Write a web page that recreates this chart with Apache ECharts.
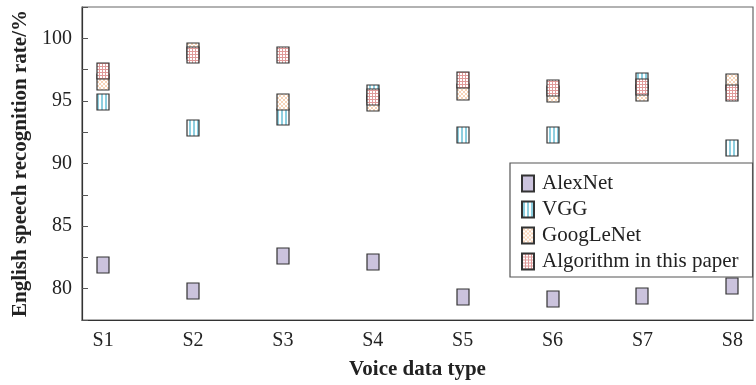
<!DOCTYPE html>
<html>
<head>
<meta charset="utf-8">
<script src="https://cdn.jsdelivr.net/npm/echarts@6/dist/echarts.min.js"></script>
<style>
  html, body { margin: 0; padding: 0; background: #fff; }
  #chart { width: 756px; height: 385px; }
</style>
</head>
<body>
<div id="chart"></div>
<script>
const categories = ['S1', 'S2', 'S3', 'S4', 'S5', 'S6', 'S7', 'S8']
const alexNet = [81.9, 79.8, 82.6, 82.1, 79.3, 79.2, 79.4, 80.2]
const vgg = [94.9, 92.8, 93.7, 95.6, 92.3, 92.3, 96.6, 91.2]
const googLeNet = [96.5, 99.0, 94.9, 94.85, 95.7, 95.55, 95.65, 96.5]
const ours = [97.4, 98.7, 98.7, 95.3, 96.7, 96.0, 96.1, 95.6]
const yTicks = [80, 85, 90, 95, 100]

const font = '"Liberation Serif", "DejaVu Serif", serif'

// small canvas tiles used as fill patterns
function tile (w, h, draw) {
  const c = document.createElement('canvas')
  c.width = w
  c.height = h
  const ctx = c.getContext('2d')
  ctx.fillStyle = '#fff'
  ctx.fillRect(0, 0, w, h)
  draw(ctx)
  return { image: c, repeat: 'repeat' }
}

const stripes = tile(4, 4, ctx => {
  ctx.fillStyle = '#8dcfe0'
  ctx.fillRect(1, 0, 2, 4)
})

const crossHatch = tile(4, 4, ctx => {
  ctx.strokeStyle = '#f5c9a6'
  ctx.lineWidth = 0.8
  ctx.beginPath()
  ctx.moveTo(0, 0); ctx.lineTo(4, 4)
  ctx.moveTo(4, 0); ctx.lineTo(0, 4)
  ctx.stroke()
})

const grid = tile(3, 3, ctx => {
  ctx.fillStyle = '#e09a9a'
  ctx.fillRect(0, 0, 3, 1)
  ctx.fillRect(0, 0, 1, 3)
})

const chart = echarts.init(document.getElementById('chart'))

function pts (vals) {
  return vals.map((v, i) => [i + 1, v])
}

// boxes drawn through the axes: 12 x 16 px rectangle centred on each value
function makeSeries (name, vals, fill) {
  return {
    name: name,
    type: 'custom',
    data: pts(vals),
    encode: { x: 0, y: 1 },
    itemStyle: { color: fill, borderColor: '#333', borderWidth: 1.2 },
    renderItem: (params, api) => {
      const p = api.coord([api.value(0), api.value(1)])
      return {
        type: 'rect',
        shape: { x: Math.round(p[0]) - 6, y: Math.round(p[1]) - 8, width: 12, height: 16 },
        style: { fill: fill, stroke: '#333', lineWidth: 1.2 }
      }
    }
  }
}

const option = {
  animation: false,
  grid: {
    left: 82,
    right: 1,
    top: 7,
    bottom: 61,
    show: true,
    borderColor: '#666',
    borderWidth: 1.2
  },
  legend: {
    orient: 'vertical',
    left: 510,
    top: 163,
    padding: [10, 14, 5, 11],
    backgroundColor: '#fff',
    borderColor: '#555',
    borderWidth: 1.2,
    icon: 'rect',
    itemWidth: 12,
    itemHeight: 16,
    itemGap: 5,
    textStyle: {
      fontFamily: font,
      fontSize: 21,
      color: '#222',
      padding: [0, 0, 0, 3]
    },
    data: ['AlexNet', 'VGG', 'GoogLeNet', 'Algorithm in this paper']
  },
  xAxis: {
    type: 'value',
    min: 0.765,
    max: 8.23,
    splitNumber: 8,
    name: 'Voice data type',
    nameLocation: 'middle',
    nameGap: 39,
    nameTextStyle: { fontFamily: font, fontSize: 21, fontWeight: 'bold', color: '#222' },
    axisLine: { show: true, lineStyle: { color: '#333', width: 1.2 } },
    axisTick: { show: false },
    splitLine: { show: false },
    axisLabel: {
      fontFamily: font,
      fontSize: 20,
      color: '#222',
      margin: 11,
      formatter: v => (Number.isInteger(v) && v >= 1 && v <= categories.length) ? categories[v - 1] : ''
    }
  },
  yAxis: {
    type: 'value',
    min: 77.5,
    max: 102.5,
    interval: 2.5,
    name: 'English speech recognition rate/%',
    nameLocation: 'middle',
    nameGap: 44,
    nameTextStyle: { fontFamily: font, fontSize: 21, fontWeight: 'bold', color: '#222' },
    axisLine: { show: true, lineStyle: { color: '#333', width: 1.2 } },
    axisTick: { show: true, inside: true, length: 6, lineStyle: { color: '#555' } },
    splitLine: { show: false },
    axisLabel: {
      fontFamily: font,
      fontSize: 20,
      color: '#222',
      margin: 10,
      formatter: v => yTicks.includes(v) ? String(v) : ''
    }
  },
  series: [
    makeSeries('AlexNet', alexNet, '#cbc3dd'),
    makeSeries('VGG', vgg, stripes),
    makeSeries('GoogLeNet', googLeNet, crossHatch),
    makeSeries('Algorithm in this paper', ours, grid)
  ]
}

chart.setOption(option)
</script>
</body>
</html>
